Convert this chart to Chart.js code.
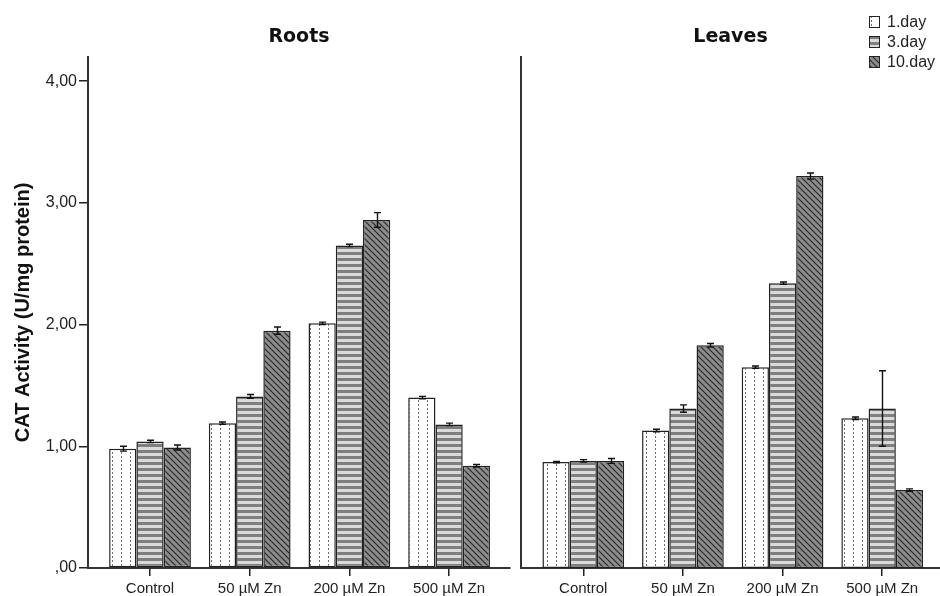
<!DOCTYPE html>
<html>
<head>
<meta charset="utf-8">
<script src="https://cdn.jsdelivr.net/npm/chart.js@4.4.1/dist/chart.umd.min.js"></script>
<style>
  body { margin: 0; background: #fff; }
  #wrap { position: relative; width: 940px; height: 596px; }
  canvas { position: absolute; top: 0; }
  #roots { left: 0; }
  #leaves { left: 516px; }
</style>
</head>
<body>
<div id="wrap">
  <canvas id="roots" width="516" height="596"></canvas>
  <canvas id="leaves" width="424" height="596"></canvas>
</div>
<script>
// data
const categories = ["Control", "50 µM Zn", "200 µM Zn", "500 µM Zn"];
const dayLabels = ["1.day", "3.day", "10.day"];
const yTicks = [0, 1, 2, 3, 4];

const roots1 = [0.98, 1.19, 2.01, 1.40];
const roots3 = [1.04, 1.41, 2.65, 1.18];
const roots10 = [0.99, 1.95, 2.86, 0.84];
const rootsErr1 = [0.02, 0.01, 0.01, 0.01];
const rootsErr3 = [0.01, 0.015, 0.01, 0.01];
const rootsErr10 = [0.02, 0.03, 0.06, 0.01];

const leaves1 = [0.87, 1.13, 1.65, 1.23];
const leaves3 = [0.88, 1.31, 2.34, 1.31];
const leaves10 = [0.88, 1.83, 3.22, 0.64];
const leavesErr1 = [0.005, 0.01, 0.01, 0.01];
const leavesErr3 = [0.01, 0.03, 0.01, 0.31];
const leavesErr10 = [0.02, 0.015, 0.025, 0.01];

const FONT = "'Liberation Sans', Arial, sans-serif";
const INK = "#222";

// fill patterns for the three days
function makePattern(w, h, draw) {
  const c = document.createElement("canvas");
  c.width = w;
  c.height = h;
  const g = c.getContext("2d");
  draw(g);
  return g.createPattern(c, "repeat");
}
const dotted = makePattern(9, 4, (g) => {
  g.fillStyle = "#fff";
  g.fillRect(0, 0, 9, 4);
  g.fillStyle = "#6f6f6f";
  g.fillRect(4, 0, 1, 2);
});
const striped = makePattern(1, 6, (g) => {
  g.fillStyle = "#dadada";
  g.fillRect(0, 0, 1, 6);
  g.fillStyle = "#7f7f7f";
  g.fillRect(0, 0, 1, 3);
});
const hatched = makePattern(6, 6, (g) => {
  g.fillStyle = "#8c8c8c";
  g.fillRect(0, 0, 6, 6);
  g.strokeStyle = "#2a2a2a";
  g.lineWidth = 1.2;
  g.beginPath();
  [-6, 0, 6].forEach((k) => {
    g.moveTo(k - 1, -1);
    g.lineTo(k + 7, 7);
  });
  g.stroke();
});
const fills = [dotted, striped, hatched];

// error bars drawn from each bar's value and error
const errorBars = {
  id: "errorBars",
  afterDatasetsDraw(chart) {
    const ctx = chart.ctx;
    const y = chart.scales.y;
    ctx.save();
    ctx.strokeStyle = "#111";
    ctx.lineWidth = 1.4;
    chart.data.datasets.forEach((ds, i) => {
      chart.getDatasetMeta(i).data.forEach((bar, j) => {
        const v = ds.data[j].y;
        const e = ds.errors[j];
        const top = y.getPixelForValue(v + e);
        const bot = y.getPixelForValue(v - e);
        const x = Math.round(bar.x) + 0.5;
        ctx.beginPath();
        ctx.moveTo(x, top);
        ctx.lineTo(x, bot);
        ctx.moveTo(x - 3.5, top);
        ctx.lineTo(x + 3.5, top);
        ctx.moveTo(x - 3.5, bot);
        ctx.lineTo(x + 3.5, bot);
        ctx.stroke();
      });
    });
    ctx.restore();
  }
};

// legend in the top right corner
const dayLegend = {
  id: "dayLegend",
  afterDraw(chart) {
    const ctx = chart.ctx;
    ctx.save();
    ctx.font = "16px " + FONT;
    ctx.textBaseline = "middle";
    chart.data.datasets.forEach((ds, i) => {
      const cy = 22 + i * 20;
      ctx.fillStyle = ds.backgroundColor;
      ctx.fillRect(353, cy - 6, 11, 12);
      ctx.strokeStyle = INK;
      ctx.lineWidth = 1;
      ctx.strokeRect(353.5, cy - 5.5, 10, 11);
      ctx.fillStyle = INK;
      ctx.fillText(ds.label, 371, cy + 1);
    });
    ctx.restore();
  }
};

function makePanel(id, title, series, errors, xMin, xMax, isLeft) {
  const datasets = series.map((vals, k) => ({
    label: dayLabels[k],
    data: vals.map((v, j) => ({ x: j, y: v })),
    errors: errors[k],
    backgroundColor: fills[k],
    borderColor: INK,
    borderWidth: 1.5,
    borderSkipped: false,
    categoryPercentage: 0.82,
    barPercentage: 1.0,
  }));

  return new Chart(document.getElementById(id), {
    type: "bar",
    data: { datasets: datasets },
    plugins: isLeft ? [errorBars] : [errorBars, dayLegend],
    options: {
      responsive: false,
      animation: false,
      devicePixelRatio: 1,
      layout: { padding: { left: 0, right: isLeft ? 6 : 0, top: 0, bottom: 0 } },
      plugins: {
        legend: { display: false },
        tooltip: { enabled: false },
        title: {
          display: true,
          text: title,
          fullSize: false,
          color: "#111",
          font: { family: "'DejaVu Sans', Verdana, sans-serif", size: 19, weight: "bold" },
          padding: { top: 26, bottom: 8 },
        },
      },
      scales: {
        x: {
          type: "linear",
          min: xMin,
          max: xMax,
          offset: false,
          afterBuildTicks: (s) => {
            s.ticks = categories.map((c, j) => ({ value: j }));
          },
          afterFit: (s) => { s.height = 28; },
          ticks: {
            autoSkip: false,
            maxRotation: 0,
            padding: 4,
            color: INK,
            font: { family: FONT, size: 15 },
            callback: (v) => categories[v],
          },
          grid: { offset: false, drawOnChartArea: false, tickLength: 8, color: INK, lineWidth: 1.5 },
          border: { display: true, color: "#333", width: 2 },
        },
        y: {
          min: 0,
          max: 4.2,
          afterBuildTicks: (s) => {
            s.ticks = yTicks.map((v) => ({ value: v }));
          },
          afterFit: (s) => { s.width = isLeft ? 88 : 5; },
          ticks: {
            display: isLeft,
            padding: 2,
            color: INK,
            font: { family: FONT, size: 16 },
            callback: (v) => (v === 0 ? ",00" : v.toFixed(2).replace(".", ",")),
          },
          grid: { display: isLeft, drawOnChartArea: false, tickLength: 9, color: INK, lineWidth: 1.5 },
          border: { display: true, color: "#333", width: 2 },
          title: {
            display: isLeft,
            text: "CAT Activity (U/mg protein)",
            color: "#111",
            font: { family: FONT, size: 20, weight: "bold" },
            padding: { top: 11, bottom: 0 },
          },
        },
      },
    },
  });
}

makePanel("roots", "Roots",
  [roots1, roots3, roots10], [rootsErr1, rootsErr3, rootsErr10],
  -0.622, 3.611, true);
makePanel("leaves", "Leaves",
  [leaves1, leaves3, leaves10], [leavesErr1, leavesErr3, leavesErr10],
  -0.625, 3.58, false);
</script>
</body>
</html>
